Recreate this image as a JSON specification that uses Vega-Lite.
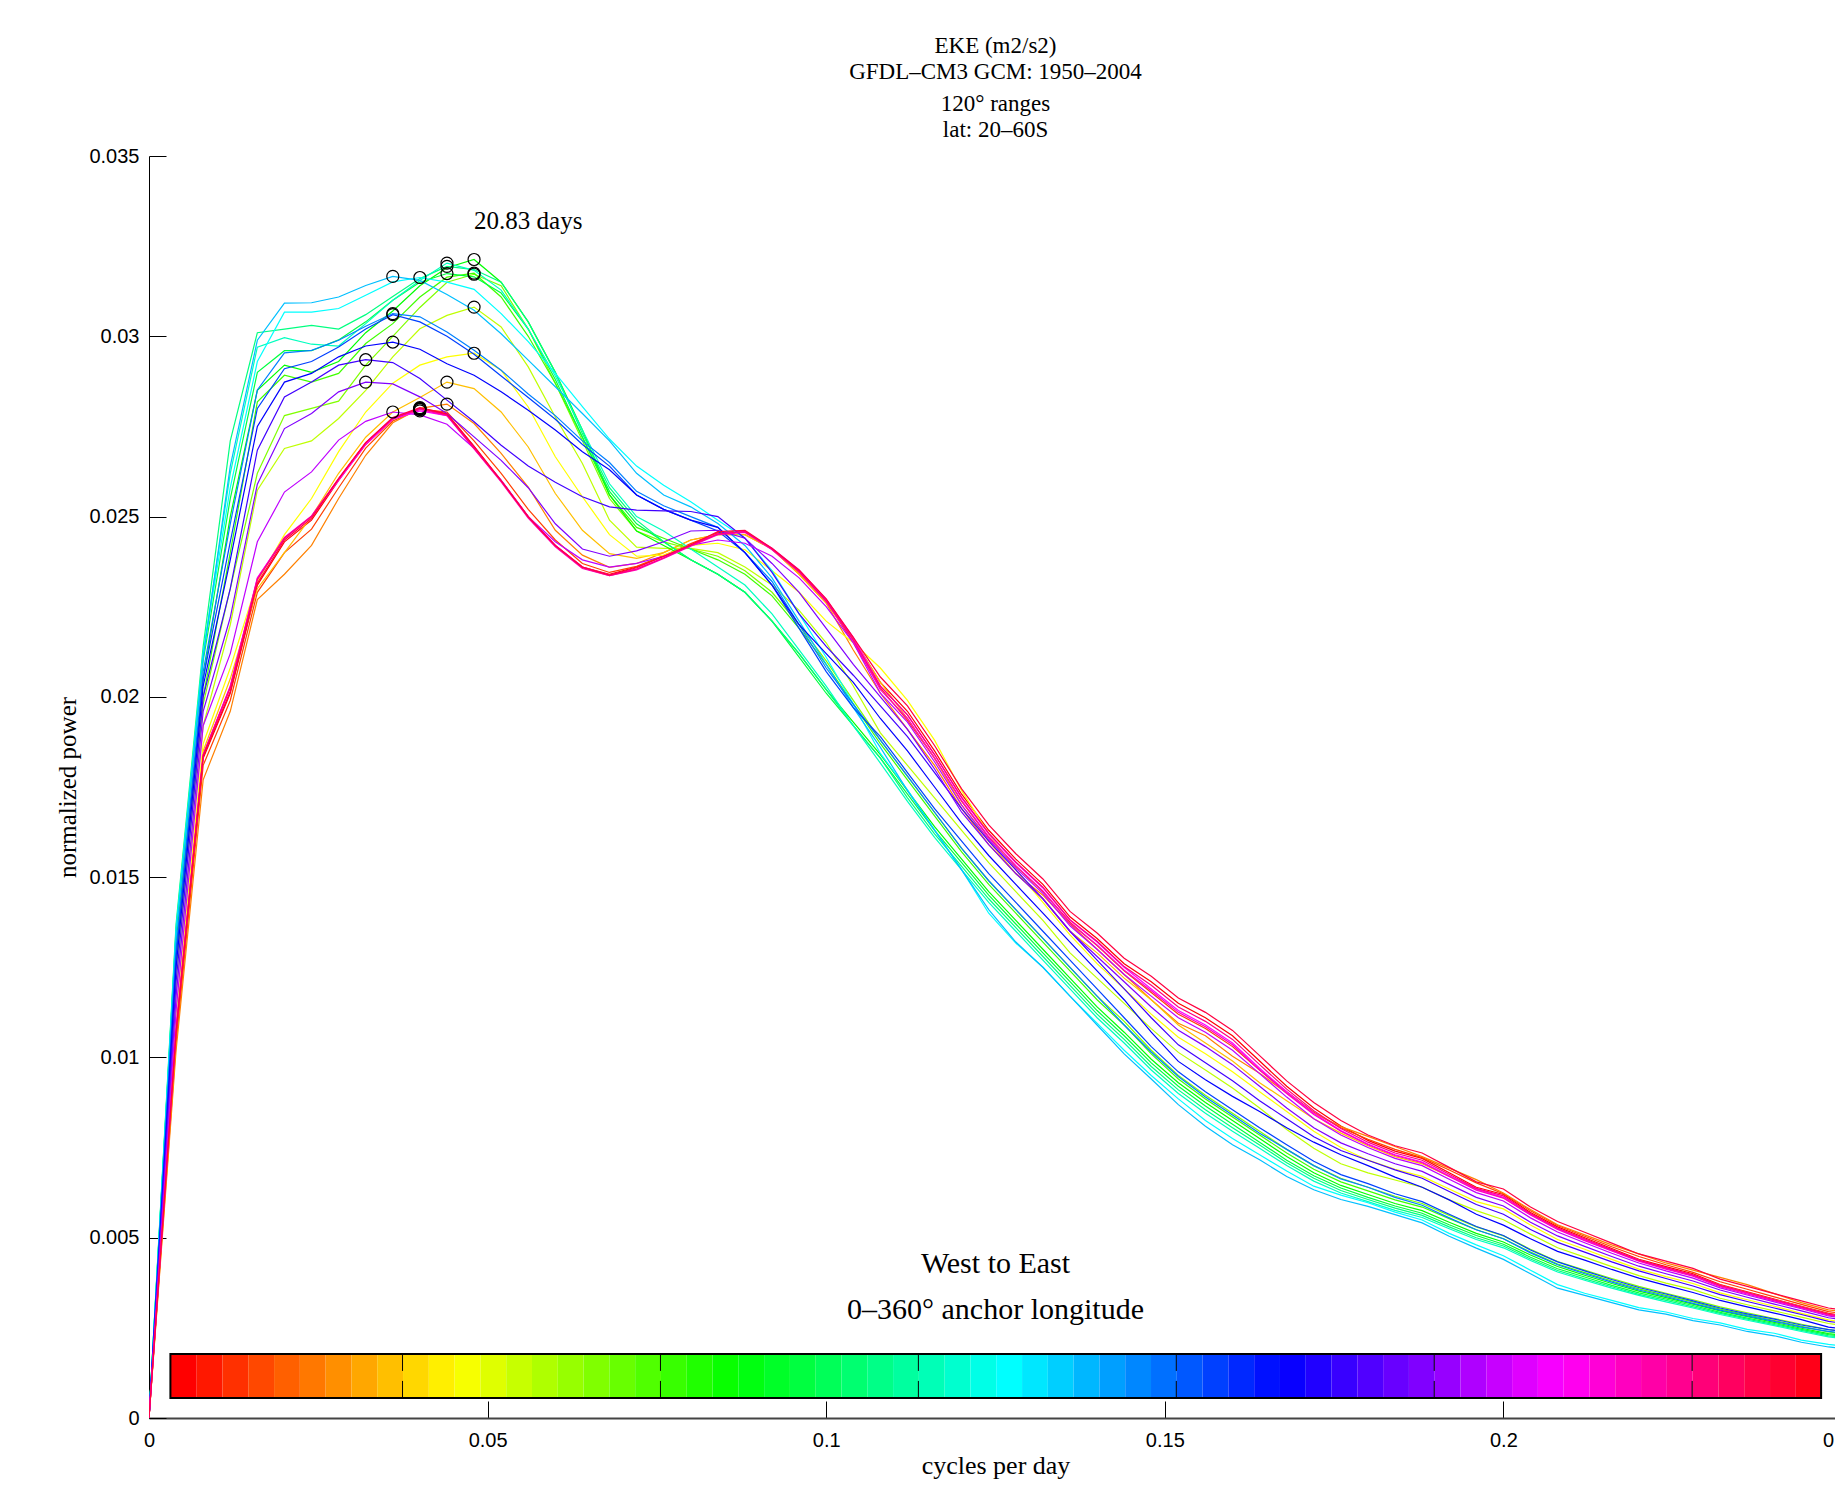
{
  "$schema": "https://vega.github.io/schema/vega-lite/v6.json",
  "width": 1693,
  "height": 1262,
  "autosize": "none",
  "padding": {"left": 149, "top": 156, "right": 0, "bottom": 70},
  "background": "white",
  "config": {
    "view": {"stroke": null},
    "font": "Liberation Serif",
    "axis": {"grid": false, "labelFont": "Liberation Sans", "labelFontSize": 20, "labelColor": "black", "tickSize": -17, "tickColor": "black", "tickWidth": 1, "titleFont": "Liberation Serif", "titleFontWeight": "normal", "titleColor": "black", "labelFlush": false, "labelOverlap": false},
    "axisX": {"labelPadding": 29, "titleFontSize": 26, "titleY": 47, "titleBaseline": "middle", "domainColor": "#444444", "domainWidth": 2},
    "axisY": {"labelPadding": 27, "titleFontSize": 25, "titleX": -82, "titleY": 631, "titleAngle": -90, "titleAlign": "center", "titleBaseline": "middle", "domainColor": "black", "domainWidth": 1}
  },
  "title": {
    "text": ["EKE (m2/s2)", "GFDL–CM3 GCM: 1950–2004"],
    "subtitle": ["120° ranges", "lat: 20–60S"],
    "font": "Liberation Serif", "fontSize": 23, "fontWeight": "normal", "color": "black", "lineHeight": 26,
    "subtitleFont": "Liberation Serif", "subtitleFontSize": 23, "subtitleColor": "black", "subtitleLineHeight": 26, "subtitlePadding": 9,
    "offset": 4, "anchor": "middle", "frame": "group"
  },
  "datasets": {
    "spectra": [
      {"f":0,"lon0":0,"lon15":0,"lon30":0,"lon45":0,"lon60":0,"lon75":0,"lon90":0,"lon105":0,"lon120":0,"lon135":0,"lon150":0,"lon165":0,"lon180":0,"lon195":0,"lon210":0,"lon225":0,"lon240":0,"lon255":0,"lon270":0,"lon285":0,"lon300":0,"lon315":0,"lon330":0,"lon345":0},
      {"f":0.004,"lon0":0.0106,"lon15":0.0104,"lon30":0.0102,"lon45":0.0108,"lon60":0.0112,"lon75":0.0118,"lon90":0.0124,"lon105":0.0128,"lon120":0.0132,"lon135":0.0135,"lon150":0.0137,"lon165":0.0136,"lon180":0.0135,"lon195":0.0134,"lon210":0.013,"lon225":0.0128,"lon240":0.0125,"lon255":0.0121,"lon270":0.0117,"lon285":0.0113,"lon300":0.0108,"lon315":0.0108,"lon330":0.0107,"lon345":0.0107},
      {"f":0.008,"lon0":0.0183,"lon15":0.0181,"lon30":0.0177,"lon45":0.0185,"lon60":0.0187,"lon75":0.0192,"lon90":0.0198,"lon105":0.02,"lon120":0.0205,"lon135":0.021,"lon150":0.0214,"lon165":0.0212,"lon180":0.0212,"lon195":0.0211,"lon210":0.0207,"lon225":0.0205,"lon240":0.0203,"lon255":0.02,"lon270":0.0196,"lon285":0.0192,"lon300":0.0184,"lon315":0.01838,"lon330":0.0184,"lon345":0.01835},
      {"f":0.012,"lon0":0.0201,"lon15":0.0199,"lon30":0.0196,"lon45":0.0205,"lon60":0.0208,"lon75":0.022,"lon90":0.023,"lon105":0.024,"lon120":0.025,"lon135":0.0255,"lon150":0.0271,"lon165":0.0262,"lon180":0.0258,"lon195":0.0264,"lon210":0.0248,"lon225":0.0243,"lon240":0.0238,"lon255":0.023,"lon270":0.0222,"lon285":0.0212,"lon300":0.0203,"lon315":0.02028,"lon330":0.02025,"lon345":0.02015},
      {"f":0.016,"lon0":0.0231,"lon15":0.0229,"lon30":0.0227,"lon45":0.023,"lon60":0.0232,"lon75":0.02573,"lon90":0.0262,"lon105":0.02818,"lon120":0.0285,"lon135":0.029,"lon150":0.0301,"lon165":0.0297,"lon180":0.0293,"lon195":0.02989,"lon210":0.02851,"lon225":0.028,"lon240":0.0275,"lon255":0.02684,"lon270":0.0259,"lon285":0.0243,"lon300":0.0233,"lon315":0.02328,"lon330":0.02325,"lon345":0.02315},
      {"f":0.02,"lon0":0.0243,"lon15":0.024,"lon30":0.0234,"lon45":0.024,"lon60":0.0245,"lon75":0.02689,"lon90":0.0278,"lon105":0.02892,"lon120":0.0292,"lon135":0.0296,"lon150":0.0302,"lon165":0.02996,"lon180":0.03067,"lon195":0.03092,"lon210":0.02954,"lon225":0.0291,"lon240":0.02873,"lon255":0.02832,"lon270":0.02744,"lon285":0.02568,"lon300":0.0244,"lon315":0.02442,"lon330":0.0244,"lon345":0.02435},
      {"f":0.024,"lon0":0.0249,"lon15":0.02465,"lon30":0.0242,"lon45":0.025,"lon60":0.0255,"lon75":0.0271,"lon90":0.028,"lon105":0.02873,"lon120":0.029,"lon135":0.0296,"lon150":0.0303,"lon165":0.02978,"lon180":0.03067,"lon195":0.03093,"lon210":0.02961,"lon225":0.0293,"lon240":0.02897,"lon255":0.02873,"lon270":0.02786,"lon285":0.02624,"lon300":0.025,"lon315":0.02502,"lon330":0.025,"lon345":0.02495},
      {"f":0.028,"lon0":0.026,"lon15":0.0258,"lon30":0.0255,"lon45":0.0262,"lon60":0.0268,"lon75":0.02772,"lon90":0.0282,"lon105":0.02897,"lon120":0.0293,"lon135":0.0299,"lon150":0.0302,"lon165":0.02973,"lon180":0.03077,"lon195":0.03109,"lon210":0.02989,"lon225":0.0297,"lon240":0.02943,"lon255":0.0292,"lon270":0.02846,"lon285":0.02712,"lon300":0.026,"lon315":0.02604,"lon330":0.02605,"lon345":0.02605},
      {"f":0.032,"lon0":0.027,"lon15":0.0269,"lon30":0.0267,"lon45":0.0272,"lon60":0.0279,"lon75":0.0285,"lon90":0.0292,"lon105":0.0298,"lon120":0.0301,"lon135":0.0304,"lon150":0.0306,"lon165":0.03035,"lon180":0.03114,"lon195":0.03141,"lon210":0.03028,"lon225":0.0302,"lon240":0.02973,"lon255":0.02935,"lon270":0.02873,"lon285":0.02764,"lon300":0.027,"lon315":0.02704,"lon330":0.02705,"lon345":0.02705},
      {"f":0.036,"lon0":0.0277,"lon15":0.02765,"lon30":0.0276,"lon45":0.0279,"lon60":0.0287,"lon75":0.02943,"lon90":0.03,"lon105":0.03035,"lon120":0.0307,"lon135":0.031,"lon150":0.0311,"lon165":0.031,"lon180":0.03151,"lon195":0.03166,"lon210":0.03063,"lon225":0.0306,"lon240":0.02984,"lon255":0.02927,"lon270":0.02868,"lon285":0.0279,"lon300":0.0277,"lon315":0.02774,"lon330":0.02772,"lon345":0.02775},
      {"f":0.04,"lon0":0.028,"lon15":0.02798,"lon30":0.028,"lon45":0.0283,"lon60":0.0292,"lon75":0.03021,"lon90":0.0308,"lon105":0.03109,"lon120":0.0314,"lon135":0.0315,"lon150":0.0316,"lon165":0.03155,"lon180":0.03163,"lon195":0.03155,"lon210":0.03054,"lon225":0.0304,"lon240":0.02964,"lon255":0.02883,"lon270":0.02832,"lon285":0.02782,"lon300":0.02793,"lon315":0.02797,"lon330":0.028,"lon345":0.02802},
      {"f":0.044,"lon0":0.02785,"lon15":0.0279,"lon30":0.02812,"lon45":0.02873,"lon60":0.02943,"lon75":0.03058,"lon90":0.0315,"lon105":0.03164,"lon120":0.0319,"lon135":0.03174,"lon150":0.03194,"lon165":0.03203,"lon180":0.0315,"lon195":0.03116,"lon210":0.03012,"lon225":0.03,"lon240":0.02924,"lon255":0.02823,"lon270":0.02786,"lon285":0.02756,"lon300":0.0278,"lon315":0.0278,"lon330":0.02782,"lon345":0.02785},
      {"f":0.048,"lon0":0.02695,"lon15":0.0271,"lon30":0.02758,"lon45":0.02855,"lon60":0.02953,"lon75":0.03081,"lon90":0.03172,"lon105":0.03175,"lon120":0.03213,"lon135":0.03165,"lon150":0.03185,"lon165":0.03183,"lon180":0.0313,"lon195":0.03072,"lon210":0.02961,"lon225":0.0295,"lon240":0.02892,"lon255":0.02763,"lon270":0.02721,"lon285":0.02689,"lon300":0.0269,"lon315":0.02688,"lon330":0.0269,"lon345":0.02695},
      {"f":0.052,"lon0":0.026,"lon15":0.0262,"lon30":0.02675,"lon45":0.0279,"lon60":0.02906,"lon75":0.03026,"lon90":0.0314,"lon105":0.03109,"lon120":0.0315,"lon135":0.0312,"lon150":0.0315,"lon165":0.03128,"lon180":0.03063,"lon195":0.03007,"lon210":0.02906,"lon225":0.0289,"lon240":0.02846,"lon255":0.02698,"lon270":0.02656,"lon285":0.02601,"lon300":0.026,"lon315":0.02596,"lon330":0.02598,"lon345":0.026},
      {"f":0.056,"lon0":0.025,"lon15":0.0252,"lon30":0.02582,"lon45":0.02693,"lon60":0.02804,"lon75":0.02915,"lon90":0.0302,"lon105":0.03,"lon120":0.0304,"lon135":0.0302,"lon150":0.0304,"lon165":0.0302,"lon180":0.02985,"lon195":0.02934,"lon210":0.0284,"lon225":0.0283,"lon240":0.02795,"lon255":0.0264,"lon270":0.0258,"lon285":0.025,"lon300":0.025,"lon315":0.02496,"lon330":0.02498,"lon345":0.025},
      {"f":0.06,"lon0":0.0242,"lon15":0.02435,"lon30":0.02462,"lon45":0.02564,"lon60":0.02666,"lon75":0.02776,"lon90":0.0287,"lon105":0.0287,"lon120":0.029,"lon135":0.0288,"lon150":0.029,"lon165":0.0289,"lon180":0.02897,"lon195":0.0286,"lon210":0.0278,"lon225":0.0277,"lon240":0.0274,"lon255":0.02595,"lon270":0.0248,"lon285":0.0243,"lon300":0.0242,"lon315":0.02416,"lon330":0.02418,"lon345":0.0242},
      {"f":0.064,"lon0":0.0236,"lon15":0.0237,"lon30":0.02393,"lon45":0.02462,"lon60":0.02555,"lon75":0.02647,"lon90":0.0271,"lon105":0.0272,"lon120":0.0274,"lon135":0.0272,"lon150":0.0273,"lon165":0.0274,"lon180":0.02805,"lon195":0.02786,"lon210":0.0271,"lon225":0.027,"lon240":0.0268,"lon255":0.02555,"lon270":0.0241,"lon285":0.0238,"lon300":0.0236,"lon315":0.02356,"lon330":0.02358,"lon345":0.0236},
      {"f":0.068,"lon0":0.0234,"lon15":0.02345,"lon30":0.02359,"lon45":0.02397,"lon60":0.0245,"lon75":0.0249,"lon90":0.0255,"lon105":0.0256,"lon120":0.0256,"lon135":0.0257,"lon150":0.0258,"lon165":0.02591,"lon180":0.02715,"lon195":0.0271,"lon210":0.0265,"lon225":0.0264,"lon240":0.0263,"lon255":0.02527,"lon270":0.0239,"lon285":0.0236,"lon300":0.02338,"lon315":0.02336,"lon330":0.02336,"lon345":0.02338},
      {"f":0.072,"lon0":0.0236,"lon15":0.02362,"lon30":0.0237,"lon45":0.02384,"lon60":0.0239,"lon75":0.02415,"lon90":0.0246,"lon105":0.0247,"lon120":0.0246,"lon135":0.0248,"lon150":0.0249,"lon165":0.025,"lon180":0.0264,"lon195":0.0262,"lon210":0.0257,"lon225":0.0256,"lon240":0.0256,"lon255":0.02518,"lon270":0.02405,"lon285":0.0237,"lon300":0.02355,"lon315":0.02352,"lon330":0.02354,"lon345":0.02358},
      {"f":0.076,"lon0":0.0239,"lon15":0.02392,"lon30":0.024,"lon45":0.024,"lon60":0.02393,"lon75":0.02412,"lon90":0.0243,"lon105":0.0244,"lon120":0.0242,"lon135":0.0243,"lon150":0.0243,"lon165":0.0246,"lon180":0.02587,"lon195":0.0256,"lon210":0.0253,"lon225":0.0252,"lon240":0.0252,"lon255":0.02516,"lon270":0.0243,"lon285":0.0239,"lon300":0.02385,"lon315":0.02384,"lon330":0.02386,"lon345":0.0239},
      {"f":0.08,"lon0":0.0242,"lon15":0.02425,"lon30":0.02435,"lon45":0.02435,"lon60":0.0242,"lon75":0.02412,"lon90":0.0241,"lon105":0.0241,"lon120":0.0238,"lon135":0.0238,"lon150":0.0238,"lon165":0.0241,"lon180":0.02541,"lon195":0.02527,"lon210":0.025,"lon225":0.0249,"lon240":0.0249,"lon255":0.02514,"lon270":0.0246,"lon285":0.0242,"lon300":0.0242,"lon315":0.02418,"lon330":0.0242,"lon345":0.02422},
      {"f":0.084,"lon0":0.02455,"lon15":0.02455,"lon30":0.0245,"lon45":0.0245,"lon60":0.02426,"lon75":0.024,"lon90":0.0239,"lon105":0.0238,"lon120":0.0234,"lon135":0.0234,"lon150":0.0234,"lon165":0.0236,"lon180":0.0249,"lon195":0.02481,"lon210":0.0247,"lon225":0.0246,"lon240":0.0247,"lon255":0.025,"lon270":0.02462,"lon285":0.02435,"lon300":0.02452,"lon315":0.0245,"lon330":0.02452,"lon345":0.02458},
      {"f":0.088,"lon0":0.0246,"lon15":0.02458,"lon30":0.0245,"lon45":0.0245,"lon60":0.02408,"lon75":0.0236,"lon90":0.0235,"lon105":0.0234,"lon120":0.0229,"lon135":0.0229,"lon150":0.0229,"lon165":0.0231,"lon180":0.0244,"lon195":0.0242,"lon210":0.024,"lon225":0.024,"lon240":0.024,"lon255":0.0244,"lon270":0.0244,"lon285":0.02426,"lon300":0.02458,"lon315":0.02456,"lon330":0.02458,"lon345":0.02462},
      {"f":0.092,"lon0":0.0241,"lon15":0.0241,"lon30":0.0241,"lon45":0.0241,"lon60":0.0235,"lon75":0.0231,"lon90":0.0229,"lon105":0.0228,"lon120":0.0221,"lon135":0.0221,"lon150":0.0221,"lon165":0.0223,"lon180":0.0235,"lon195":0.0233,"lon210":0.0232,"lon225":0.0231,"lon240":0.0231,"lon255":0.02345,"lon270":0.0237,"lon285":0.0239,"lon300":0.02412,"lon315":0.02408,"lon330":0.0241,"lon345":0.02412},
      {"f":0.096,"lon0":0.0235,"lon15":0.02345,"lon30":0.0234,"lon45":0.0234,"lon60":0.0229,"lon75":0.0224,"lon90":0.022,"lon105":0.0219,"lon120":0.0212,"lon135":0.0211,"lon150":0.0212,"lon165":0.0213,"lon180":0.0223,"lon195":0.0221,"lon210":0.022,"lon225":0.0219,"lon240":0.022,"lon255":0.0223,"lon270":0.0229,"lon285":0.0233,"lon300":0.02352,"lon315":0.02346,"lon330":0.02348,"lon345":0.02352},
      {"f":0.1,"lon0":0.0227,"lon15":0.02265,"lon30":0.0226,"lon45":0.0226,"lon60":0.0221,"lon75":0.0215,"lon90":0.021,"lon105":0.0209,"lon120":0.0202,"lon135":0.0201,"lon150":0.0202,"lon165":0.0203,"lon180":0.0211,"lon195":0.0209,"lon210":0.0208,"lon225":0.0207,"lon240":0.0212,"lon255":0.0214,"lon270":0.0219,"lon285":0.0225,"lon300":0.0227,"lon315":0.02264,"lon330":0.02266,"lon345":0.02272},
      {"f":0.104,"lon0":0.0216,"lon15":0.0215,"lon30":0.0213,"lon45":0.0216,"lon60":0.0215,"lon75":0.0203,"lon90":0.0199,"lon105":0.0198,"lon120":0.0193,"lon135":0.0192,"lon150":0.0192,"lon165":0.0192,"lon180":0.0198,"lon195":0.0197,"lon210":0.0198,"lon225":0.0197,"lon240":0.0204,"lon255":0.0206,"lon270":0.0209,"lon285":0.0215,"lon300":0.02165,"lon315":0.02156,"lon330":0.02158,"lon345":0.02165},
      {"f":0.108,"lon0":0.0204,"lon15":0.02025,"lon30":0.0201,"lon45":0.0204,"lon60":0.0208,"lon75":0.019,"lon90":0.0188,"lon105":0.0187,"lon120":0.0184,"lon135":0.0183,"lon150":0.0183,"lon165":0.01816,"lon180":0.01843,"lon195":0.0186,"lon210":0.0188,"lon225":0.0189,"lon240":0.0194,"lon255":0.01975,"lon270":0.02,"lon285":0.0201,"lon300":0.0203,"lon315":0.0202,"lon330":0.0203,"lon345":0.02055},
      {"f":0.112,"lon0":0.0196,"lon15":0.01935,"lon30":0.0191,"lon45":0.0194,"lon60":0.0199,"lon75":0.0181,"lon90":0.0178,"lon105":0.0177,"lon120":0.0174,"lon135":0.0173,"lon150":0.0172,"lon165":0.0171,"lon180":0.01742,"lon195":0.0174,"lon210":0.0178,"lon225":0.0179,"lon240":0.0185,"lon255":0.0189,"lon270":0.0191,"lon285":0.0193,"lon300":0.0195,"lon315":0.0194,"lon330":0.0195,"lon345":0.01975},
      {"f":0.116,"lon0":0.0185,"lon15":0.0183,"lon30":0.0181,"lon45":0.0183,"lon60":0.0188,"lon75":0.0172,"lon90":0.0168,"lon105":0.0167,"lon120":0.0164,"lon135":0.0163,"lon150":0.0162,"lon165":0.0161,"lon180":0.01631,"lon195":0.0163,"lon210":0.0168,"lon225":0.0169,"lon240":0.0175,"lon255":0.0179,"lon270":0.018,"lon285":0.0182,"lon300":0.0184,"lon315":0.0183,"lon330":0.0184,"lon345":0.01865},
      {"f":0.12,"lon0":0.0173,"lon15":0.0171,"lon30":0.0169,"lon45":0.017,"lon60":0.0174,"lon75":0.0163,"lon90":0.0158,"lon105":0.0157,"lon120":0.0155,"lon135":0.0154,"lon150":0.0153,"lon165":0.0152,"lon180":0.01521,"lon195":0.0152,"lon210":0.0158,"lon225":0.016,"lon240":0.0165,"lon255":0.0169,"lon270":0.0168,"lon285":0.017,"lon300":0.0172,"lon315":0.01712,"lon330":0.01722,"lon345":0.01745},
      {"f":0.124,"lon0":0.0163,"lon15":0.0161,"lon30":0.0159,"lon45":0.016,"lon60":0.0162,"lon75":0.0154,"lon90":0.0149,"lon105":0.0148,"lon120":0.0146,"lon135":0.0145,"lon150":0.0144,"lon165":0.0143,"lon180":0.014,"lon195":0.0141,"lon210":0.0149,"lon225":0.0151,"lon240":0.0156,"lon255":0.016,"lon270":0.0159,"lon285":0.01605,"lon300":0.0162,"lon315":0.01612,"lon330":0.01622,"lon345":0.01645},
      {"f":0.128,"lon0":0.0155,"lon15":0.0153,"lon30":0.0151,"lon45":0.0151,"lon60":0.0152,"lon75":0.0146,"lon90":0.0141,"lon105":0.014,"lon120":0.0138,"lon135":0.0137,"lon150":0.0136,"lon165":0.0135,"lon180":0.01317,"lon195":0.0132,"lon210":0.0141,"lon225":0.0143,"lon240":0.0148,"lon255":0.0152,"lon270":0.0151,"lon285":0.01525,"lon300":0.0154,"lon315":0.01532,"lon330":0.01542,"lon345":0.01565},
      {"f":0.132,"lon0":0.0148,"lon15":0.0146,"lon30":0.0145,"lon45":0.0144,"lon60":0.0143,"lon75":0.0138,"lon90":0.0133,"lon105":0.0132,"lon120":0.013,"lon135":0.0129,"lon150":0.0128,"lon165":0.0127,"lon180":0.0125,"lon195":0.0125,"lon210":0.0133,"lon225":0.0135,"lon240":0.014,"lon255":0.0144,"lon270":0.0144,"lon285":0.01455,"lon300":0.0147,"lon315":0.01462,"lon330":0.01472,"lon345":0.01495},
      {"f":0.136,"lon0":0.0139,"lon15":0.01375,"lon30":0.0137,"lon45":0.0135,"lon60":0.0134,"lon75":0.0129,"lon90":0.0125,"lon105":0.0124,"lon120":0.0122,"lon135":0.0121,"lon150":0.012,"lon165":0.0119,"lon180":0.0117,"lon195":0.0117,"lon210":0.0125,"lon225":0.0127,"lon240":0.0132,"lon255":0.0135,"lon270":0.0135,"lon285":0.01365,"lon300":0.0138,"lon315":0.01372,"lon330":0.01382,"lon345":0.01405},
      {"f":0.14,"lon0":0.0133,"lon15":0.0131,"lon30":0.013,"lon45":0.0129,"lon60":0.0126,"lon75":0.0122,"lon90":0.0117,"lon105":0.0116,"lon120":0.0114,"lon135":0.0113,"lon150":0.0112,"lon165":0.0111,"lon180":0.01095,"lon195":0.0109,"lon210":0.0117,"lon225":0.0119,"lon240":0.0124,"lon255":0.0127,"lon270":0.0128,"lon285":0.013,"lon300":0.0132,"lon315":0.01312,"lon330":0.01322,"lon345":0.01345},
      {"f":0.144,"lon0":0.0126,"lon15":0.0124,"lon30":0.0123,"lon45":0.0122,"lon60":0.0119,"lon75":0.0115,"lon90":0.011,"lon105":0.0109,"lon120":0.0107,"lon135":0.0106,"lon150":0.0105,"lon165":0.0104,"lon180":0.0102,"lon195":0.0101,"lon210":0.0109,"lon225":0.0111,"lon240":0.0116,"lon255":0.0119,"lon270":0.0121,"lon285":0.0123,"lon300":0.0125,"lon315":0.01242,"lon330":0.01252,"lon345":0.01275},
      {"f":0.148,"lon0":0.0121,"lon15":0.0118,"lon30":0.0116,"lon45":0.0116,"lon60":0.0112,"lon75":0.0108,"lon90":0.0102,"lon105":0.0101,"lon120":0.00995,"lon135":0.00985,"lon150":0.00975,"lon165":0.00965,"lon180":0.0095,"lon195":0.0094,"lon210":0.01015,"lon225":0.0103,"lon240":0.0107,"lon255":0.0111,"lon270":0.0114,"lon285":0.0117,"lon300":0.0119,"lon315":0.01185,"lon330":0.012,"lon345":0.01225},
      {"f":0.152,"lon0":0.0115,"lon15":0.0112,"lon30":0.01095,"lon45":0.0109,"lon60":0.01056,"lon75":0.01014,"lon90":0.0095,"lon105":0.0094,"lon120":0.0093,"lon135":0.0092,"lon150":0.0091,"lon165":0.009,"lon180":0.00885,"lon195":0.00869,"lon210":0.00947,"lon225":0.0096,"lon240":0.00989,"lon255":0.01035,"lon270":0.01075,"lon285":0.0111,"lon300":0.0113,"lon315":0.01125,"lon330":0.0114,"lon345":0.01165},
      {"f":0.156,"lon0":0.0111,"lon15":0.0108,"lon30":0.0106,"lon45":0.0104,"lon60":0.0101,"lon75":0.00965,"lon90":0.00895,"lon105":0.00885,"lon120":0.00875,"lon135":0.00865,"lon150":0.00855,"lon165":0.00845,"lon180":0.00825,"lon195":0.00809,"lon210":0.0089,"lon225":0.00905,"lon240":0.00938,"lon255":0.00985,"lon270":0.0103,"lon285":0.0107,"lon300":0.0109,"lon315":0.01085,"lon330":0.011,"lon345":0.01125},
      {"f":0.16,"lon0":0.0106,"lon15":0.0103,"lon30":0.01003,"lon45":0.0099,"lon60":0.0096,"lon75":0.00915,"lon90":0.00845,"lon105":0.00835,"lon120":0.00825,"lon135":0.00815,"lon150":0.00805,"lon165":0.00795,"lon180":0.00775,"lon195":0.00758,"lon210":0.0084,"lon225":0.00855,"lon240":0.00892,"lon255":0.00935,"lon270":0.0098,"lon285":0.0102,"lon300":0.0104,"lon315":0.01035,"lon330":0.0105,"lon345":0.01075},
      {"f":0.164,"lon0":0.0099,"lon15":0.00965,"lon30":0.00956,"lon45":0.0093,"lon60":0.00905,"lon75":0.0086,"lon90":0.00795,"lon105":0.00785,"lon120":0.00775,"lon135":0.00765,"lon150":0.00757,"lon165":0.00748,"lon180":0.0073,"lon195":0.00716,"lon210":0.0079,"lon225":0.00805,"lon240":0.0085,"lon255":0.0088,"lon270":0.0092,"lon285":0.00955,"lon300":0.0097,"lon315":0.00965,"lon330":0.0098,"lon345":0.01005},
      {"f":0.168,"lon0":0.0092,"lon15":0.00905,"lon30":0.00901,"lon45":0.0088,"lon60":0.0085,"lon75":0.008,"lon90":0.00745,"lon105":0.00735,"lon120":0.00725,"lon135":0.00715,"lon150":0.00708,"lon165":0.007,"lon180":0.00685,"lon195":0.0067,"lon210":0.00745,"lon225":0.00758,"lon240":0.00805,"lon255":0.0083,"lon270":0.0086,"lon285":0.0089,"lon300":0.00905,"lon315":0.009,"lon330":0.00912,"lon345":0.00935},
      {"f":0.172,"lon0":0.0086,"lon15":0.00848,"lon30":0.00846,"lon45":0.0083,"lon60":0.00795,"lon75":0.00748,"lon90":0.007,"lon105":0.0069,"lon120":0.0068,"lon135":0.00672,"lon150":0.00665,"lon165":0.00657,"lon180":0.00643,"lon195":0.00633,"lon210":0.007,"lon225":0.00712,"lon240":0.00765,"lon255":0.0078,"lon270":0.00805,"lon285":0.0083,"lon300":0.00845,"lon315":0.00842,"lon330":0.00852,"lon345":0.00875},
      {"f":0.176,"lon0":0.0081,"lon15":0.00805,"lon30":0.00808,"lon45":0.0079,"lon60":0.0075,"lon75":0.00705,"lon90":0.00665,"lon105":0.00655,"lon120":0.00645,"lon135":0.00638,"lon150":0.00631,"lon165":0.00624,"lon180":0.00618,"lon195":0.00606,"lon210":0.00663,"lon225":0.00675,"lon240":0.0073,"lon255":0.00742,"lon270":0.00763,"lon285":0.00785,"lon300":0.00797,"lon315":0.00795,"lon330":0.00803,"lon345":0.00825},
      {"f":0.18,"lon0":0.0077,"lon15":0.00773,"lon30":0.00781,"lon45":0.00755,"lon60":0.00715,"lon75":0.0068,"lon90":0.0064,"lon105":0.0063,"lon120":0.0062,"lon135":0.00612,"lon150":0.00606,"lon165":0.006,"lon180":0.00597,"lon195":0.00587,"lon210":0.0064,"lon225":0.0065,"lon240":0.007,"lon255":0.00715,"lon270":0.00733,"lon285":0.0075,"lon300":0.0076,"lon315":0.00758,"lon330":0.00765,"lon345":0.00785},
      {"f":0.184,"lon0":0.0074,"lon15":0.00745,"lon30":0.00753,"lon45":0.00725,"lon60":0.0069,"lon75":0.0066,"lon90":0.00615,"lon105":0.00605,"lon120":0.00595,"lon135":0.00588,"lon150":0.00582,"lon165":0.00576,"lon180":0.00571,"lon195":0.00564,"lon210":0.00612,"lon225":0.00622,"lon240":0.00668,"lon255":0.00688,"lon270":0.00705,"lon285":0.0072,"lon300":0.0073,"lon315":0.00728,"lon330":0.00735,"lon345":0.00755},
      {"f":0.188,"lon0":0.0072,"lon15":0.00722,"lon30":0.00725,"lon45":0.00705,"lon60":0.0067,"lon75":0.0064,"lon90":0.00595,"lon105":0.00585,"lon120":0.00575,"lon135":0.00568,"lon150":0.00562,"lon165":0.00556,"lon180":0.00549,"lon195":0.00541,"lon210":0.0059,"lon225":0.006,"lon240":0.0064,"lon255":0.00665,"lon270":0.00684,"lon285":0.007,"lon300":0.0071,"lon315":0.00708,"lon330":0.00715,"lon345":0.00735},
      {"f":0.192,"lon0":0.0068,"lon15":0.00688,"lon30":0.00693,"lon45":0.0067,"lon60":0.00635,"lon75":0.00605,"lon90":0.00562,"lon105":0.00553,"lon120":0.00543,"lon135":0.00536,"lon150":0.0053,"lon165":0.00525,"lon180":0.00512,"lon195":0.00504,"lon210":0.00555,"lon225":0.00565,"lon240":0.00605,"lon255":0.00628,"lon270":0.00648,"lon285":0.00662,"lon300":0.00672,"lon315":0.0067,"lon330":0.00676,"lon345":0.00695},
      {"f":0.196,"lon0":0.0064,"lon15":0.00652,"lon30":0.00661,"lon45":0.00635,"lon60":0.006,"lon75":0.00575,"lon90":0.0053,"lon105":0.00522,"lon120":0.00512,"lon135":0.00506,"lon150":0.005,"lon165":0.00495,"lon180":0.0048,"lon195":0.00471,"lon210":0.00522,"lon225":0.00531,"lon240":0.00565,"lon255":0.00592,"lon270":0.00612,"lon285":0.00625,"lon300":0.00635,"lon315":0.00632,"lon330":0.00637,"lon345":0.00655},
      {"f":0.2,"lon0":0.0062,"lon15":0.00622,"lon30":0.00624,"lon45":0.0061,"lon60":0.0058,"lon75":0.0055,"lon90":0.00505,"lon105":0.00497,"lon120":0.00488,"lon135":0.00482,"lon150":0.00477,"lon165":0.00472,"lon180":0.0045,"lon195":0.0044,"lon210":0.00497,"lon225":0.00506,"lon240":0.00535,"lon255":0.00565,"lon270":0.00588,"lon285":0.00602,"lon300":0.00612,"lon315":0.0061,"lon330":0.00616,"lon345":0.00635},
      {"f":0.204,"lon0":0.0057,"lon15":0.00575,"lon30":0.00578,"lon45":0.00565,"lon60":0.00535,"lon75":0.0051,"lon90":0.00468,"lon105":0.0046,"lon120":0.00452,"lon135":0.00446,"lon150":0.00441,"lon165":0.00437,"lon180":0.0041,"lon195":0.004,"lon210":0.00458,"lon225":0.00466,"lon240":0.00497,"lon255":0.00523,"lon270":0.00543,"lon285":0.00555,"lon300":0.00565,"lon315":0.00563,"lon330":0.00567,"lon345":0.00585},
      {"f":0.208,"lon0":0.0053,"lon15":0.00534,"lon30":0.00536,"lon45":0.00525,"lon60":0.00495,"lon75":0.00472,"lon90":0.00434,"lon105":0.00427,"lon120":0.0042,"lon135":0.00414,"lon150":0.00409,"lon165":0.00405,"lon180":0.0037,"lon195":0.0036,"lon210":0.00425,"lon225":0.00433,"lon240":0.00462,"lon255":0.00487,"lon270":0.00505,"lon285":0.00516,"lon300":0.00525,"lon315":0.00523,"lon330":0.00527,"lon345":0.00545},
      {"f":0.212,"lon0":0.005,"lon15":0.00504,"lon30":0.00508,"lon45":0.00495,"lon60":0.00468,"lon75":0.00446,"lon90":0.0041,"lon105":0.00403,"lon120":0.00396,"lon135":0.00391,"lon150":0.00386,"lon165":0.00382,"lon180":0.00346,"lon195":0.0034,"lon210":0.004,"lon225":0.00408,"lon240":0.00438,"lon255":0.0046,"lon270":0.00476,"lon285":0.00486,"lon300":0.00494,"lon315":0.00492,"lon330":0.00497,"lon345":0.00515},
      {"f":0.216,"lon0":0.0047,"lon15":0.00475,"lon30":0.0048,"lon45":0.00465,"lon60":0.0044,"lon75":0.0042,"lon90":0.00387,"lon105":0.0038,"lon120":0.00373,"lon135":0.00368,"lon150":0.00364,"lon165":0.0036,"lon180":0.00326,"lon195":0.0032,"lon210":0.00377,"lon225":0.00384,"lon240":0.00412,"lon255":0.00433,"lon270":0.00448,"lon285":0.00457,"lon300":0.00465,"lon315":0.00463,"lon330":0.00467,"lon345":0.00485},
      {"f":0.22,"lon0":0.0044,"lon15":0.00448,"lon30":0.00455,"lon45":0.00438,"lon60":0.00413,"lon75":0.00395,"lon90":0.00365,"lon105":0.00358,"lon120":0.00352,"lon135":0.00347,"lon150":0.00343,"lon165":0.0034,"lon180":0.00306,"lon195":0.003,"lon210":0.00355,"lon225":0.00362,"lon240":0.00388,"lon255":0.00408,"lon270":0.00421,"lon285":0.0043,"lon300":0.00437,"lon315":0.00435,"lon330":0.00438,"lon345":0.00455},
      {"f":0.224,"lon0":0.0042,"lon15":0.00425,"lon30":0.0043,"lon45":0.00415,"lon60":0.00392,"lon75":0.00374,"lon90":0.00346,"lon105":0.0034,"lon120":0.00334,"lon135":0.0033,"lon150":0.00326,"lon165":0.00322,"lon180":0.00294,"lon195":0.00288,"lon210":0.00337,"lon225":0.00344,"lon240":0.00368,"lon255":0.00387,"lon270":0.004,"lon285":0.00408,"lon300":0.00415,"lon315":0.00413,"lon330":0.00417,"lon345":0.00435},
      {"f":0.228,"lon0":0.004,"lon15":0.00404,"lon30":0.0041,"lon45":0.00396,"lon60":0.00373,"lon75":0.00356,"lon90":0.00328,"lon105":0.00322,"lon120":0.00316,"lon135":0.00312,"lon150":0.00308,"lon165":0.00305,"lon180":0.00276,"lon195":0.0027,"lon210":0.00318,"lon225":0.00325,"lon240":0.00348,"lon255":0.00366,"lon270":0.0038,"lon285":0.00388,"lon300":0.00395,"lon315":0.00393,"lon330":0.00397,"lon345":0.00415},
      {"f":0.232,"lon0":0.0037,"lon15":0.00378,"lon30":0.0039,"lon45":0.00368,"lon60":0.00347,"lon75":0.00332,"lon90":0.00308,"lon105":0.00302,"lon120":0.00297,"lon135":0.00293,"lon150":0.0029,"lon165":0.00287,"lon180":0.00264,"lon195":0.00258,"lon210":0.00299,"lon225":0.00305,"lon240":0.00326,"lon255":0.00342,"lon270":0.00355,"lon285":0.00361,"lon300":0.00366,"lon315":0.00364,"lon330":0.00368,"lon345":0.00385},
      {"f":0.236,"lon0":0.0035,"lon15":0.00357,"lon30":0.0037,"lon45":0.00348,"lon60":0.00328,"lon75":0.00314,"lon90":0.00292,"lon105":0.00286,"lon120":0.00281,"lon135":0.00277,"lon150":0.00274,"lon165":0.00271,"lon180":0.00246,"lon195":0.0024,"lon210":0.00283,"lon225":0.00289,"lon240":0.00308,"lon255":0.00323,"lon270":0.00335,"lon285":0.00341,"lon300":0.00346,"lon315":0.00344,"lon330":0.00348,"lon345":0.00365},
      {"f":0.24,"lon0":0.0033,"lon15":0.00336,"lon30":0.00345,"lon45":0.00328,"lon60":0.0031,"lon75":0.00297,"lon90":0.00276,"lon105":0.0027,"lon120":0.00265,"lon135":0.00262,"lon150":0.00259,"lon165":0.00256,"lon180":0.00235,"lon195":0.00228,"lon210":0.00268,"lon225":0.00274,"lon240":0.00291,"lon255":0.00305,"lon270":0.00316,"lon285":0.00322,"lon300":0.00327,"lon315":0.00325,"lon330":0.00328,"lon345":0.00345},
      {"f":0.244,"lon0":0.0031,"lon15":0.00315,"lon30":0.0032,"lon45":0.00308,"lon60":0.0029,"lon75":0.0028,"lon90":0.0026,"lon105":0.00254,"lon120":0.00249,"lon135":0.00246,"lon150":0.00243,"lon165":0.0024,"lon180":0.00216,"lon195":0.0021,"lon210":0.00252,"lon225":0.00258,"lon240":0.00273,"lon255":0.00287,"lon270":0.00297,"lon285":0.00303,"lon300":0.00307,"lon315":0.00305,"lon330":0.00308,"lon345":0.00325},
      {"f":0.248,"lon0":0.0029,"lon15":0.00295,"lon30":0.003,"lon45":0.00288,"lon60":0.00272,"lon75":0.00262,"lon90":0.00245,"lon105":0.00239,"lon120":0.00234,"lon135":0.00231,"lon150":0.00228,"lon165":0.00225,"lon180":0.00204,"lon195":0.00197,"lon210":0.0024,"lon225":0.00245,"lon240":0.00252,"lon255":0.00268,"lon270":0.00278,"lon285":0.00283,"lon300":0.00287,"lon315":0.00285,"lon330":0.00288,"lon345":0.00305},
      {"f":0.252,"lon0":0.0028,"lon15":0.00285,"lon30":0.0029,"lon45":0.00278,"lon60":0.00262,"lon75":0.00253,"lon90":0.00236,"lon105":0.0023,"lon120":0.00226,"lon135":0.00223,"lon150":0.0022,"lon165":0.00217,"lon180":0.00195,"lon195":0.00189,"lon210":0.00232,"lon225":0.00237,"lon240":0.00243,"lon255":0.00258,"lon270":0.00268,"lon285":0.00273,"lon300":0.00277,"lon315":0.00275,"lon330":0.00278,"lon345":0.00295}
    ],
    "colorbar": [
      {"index":1},{"index":2},{"index":3},{"index":4},{"index":5},{"index":6},{"index":7},{"index":8},
      {"index":9},{"index":10},{"index":11},{"index":12},{"index":13},{"index":14},{"index":15},{"index":16},
      {"index":17},{"index":18},{"index":19},{"index":20},{"index":21},{"index":22},{"index":23},{"index":24},
      {"index":25},{"index":26},{"index":27},{"index":28},{"index":29},{"index":30},{"index":31},{"index":32},
      {"index":33},{"index":34},{"index":35},{"index":36},{"index":37},{"index":38},{"index":39},{"index":40},
      {"index":41},{"index":42},{"index":43},{"index":44},{"index":45},{"index":46},{"index":47},{"index":48},
      {"index":49},{"index":50},{"index":51},{"index":52},{"index":53},{"index":54},{"index":55},{"index":56},
      {"index":57},{"index":58},{"index":59},{"index":60},{"index":61},{"index":62},{"index":63},{"index":64}
    ],
    "colorbarTicks": [{"tick":10},{"tick":20},{"tick":30},{"tick":40},{"tick":50},{"tick":60}]
  },
  "resolve": {"scale": {"x": "independent", "color": "independent"}},
  "layer": [
    {
      "layer": [
        {
          "data": {"name": "spectra"},
          "transform": [{"fold": ["lon0","lon15","lon30","lon45","lon60","lon75","lon90","lon105","lon120","lon135","lon150","lon165","lon180","lon195","lon210","lon225","lon240","lon255","lon270","lon285","lon300","lon315","lon330","lon345"], "as": ["anchor", "power"]}],
          "mark": {"type": "line", "strokeWidth": 1.2, "clip": true},
          "encoding": {
            "x": {
              "field": "f", "type": "quantitative",
              "scale": {"domain": [0, 0.25], "nice": false, "zero": false},
              "axis": {"values": [0, 0.05, 0.1, 0.15, 0.2, 0.25], "format": "~g", "title": "cycles per day"}
            },
            "y": {
              "field": "power", "type": "quantitative",
              "scale": {"domain": [0, 0.035], "nice": false, "zero": true},
              "axis": {"values": [0, 0.005, 0.01, 0.015, 0.02, 0.025, 0.03, 0.035], "format": "~g", "title": "normalized power"}
            },
            "color": {
              "field": "anchor", "type": "nominal", "legend": null,
              "scale": {
                "domain": ["lon0","lon15","lon30","lon45","lon60","lon75","lon90","lon105","lon120","lon135","lon150","lon165","lon180","lon195","lon210","lon225","lon240","lon255","lon270","lon285","lon300","lon315","lon330","lon345"],
                "range": ["#ff0000","#ff4000","#ff8000","#ffbf00","#ffff00","#bfff00","#80ff00","#40ff00","#00ff00","#00ff40","#00ff80","#00ffbf","#00ffff","#00bfff","#0080ff","#0040ff","#0000ff","#4000ff","#8000ff","#bf00ff","#ff00ff","#ff00bf","#ff0080","#ff0040"]
              }
            }
          }
        },
        {
          "data": {"name": "spectra"},
          "transform": [
            {"fold": ["lon0","lon15","lon30","lon45","lon60","lon75","lon90","lon105","lon120","lon135","lon150","lon165","lon180","lon195","lon210","lon225","lon240","lon255","lon270","lon285","lon300","lon315","lon330","lon345"], "as": ["anchor", "power"]},
            {"aggregate": [{"op": "argmax", "field": "power", "as": "peak"}], "groupby": ["anchor"]}
          ],
          "mark": {"type": "point", "shape": "circle", "filled": false, "stroke": "black", "strokeWidth": 1.2, "size": 144, "opacity": 1},
          "encoding": {
            "x": {"field": "peak.f", "type": "quantitative"},
            "y": {"field": "peak.power", "type": "quantitative"}
          }
        },
        {
          "data": {"values": [{}]},
          "mark": {"type": "text", "text": "20.83 days", "font": "Liberation Serif", "fontSize": 25, "align": "left", "baseline": "middle", "color": "black"},
          "encoding": {"x": {"datum": 0.048, "type": "quantitative"}, "y": {"datum": 0.0332, "type": "quantitative"}}
        },
        {
          "data": {"values": [{}]},
          "mark": {"type": "text", "text": "West to East", "font": "Liberation Serif", "fontSize": 30, "align": "center", "baseline": "middle", "color": "black"},
          "encoding": {"x": {"datum": 0.125, "type": "quantitative"}, "y": {"datum": 0.00428, "type": "quantitative"}}
        },
        {
          "data": {"values": [{}]},
          "mark": {"type": "text", "text": "0–360° anchor longitude", "font": "Liberation Serif", "fontSize": 30, "align": "center", "baseline": "middle", "color": "black"},
          "encoding": {"x": {"datum": 0.125, "type": "quantitative"}, "y": {"datum": 0.003, "type": "quantitative"}}
        }
      ]
    },
    {
      "layer": [
        {
          "data": {"name": "colorbar"},
          "mark": {"type": "rect"},
          "encoding": {
            "x": {"field": "index", "type": "quantitative", "bin": {"step": 1, "extent": [1, 65]}, "scale": {"domain": [0.17, 65.81], "nice": false, "zero": false}, "axis": null},
            "y": {"datum": 0.001777, "type": "quantitative"},
            "y2": {"datum": 0.000557},
            "color": {
              "field": "index", "type": "quantitative", "legend": null,
              "scale": {"domain": [1, 11.6667, 22.3333, 33, 43.6667, 54.3333, 65], "range": ["#ff0000","#ffff00","#00ff00","#00ffff","#0000ff","#ff00ff","#ff0000"], "interpolate": "rgb"}
            }
          }
        },
        {
          "data": {"name": "colorbarTicks"},
          "mark": {"type": "rule", "color": "black", "strokeWidth": 1, "strokeDash": [17, 10]},
          "encoding": {
            "x": {"field": "tick", "type": "quantitative"},
            "y": {"datum": 0.001777, "type": "quantitative"},
            "y2": {"datum": 0.000557}
          }
        },
        {
          "data": {"values": [{}]},
          "mark": {"type": "rect", "filled": false, "stroke": "black", "strokeWidth": 2},
          "encoding": {
            "x": {"datum": 1, "type": "quantitative"},
            "x2": {"datum": 65},
            "y": {"datum": 0.001777, "type": "quantitative"},
            "y2": {"datum": 0.000557}
          }
        }
      ]
    }
  ]
}
